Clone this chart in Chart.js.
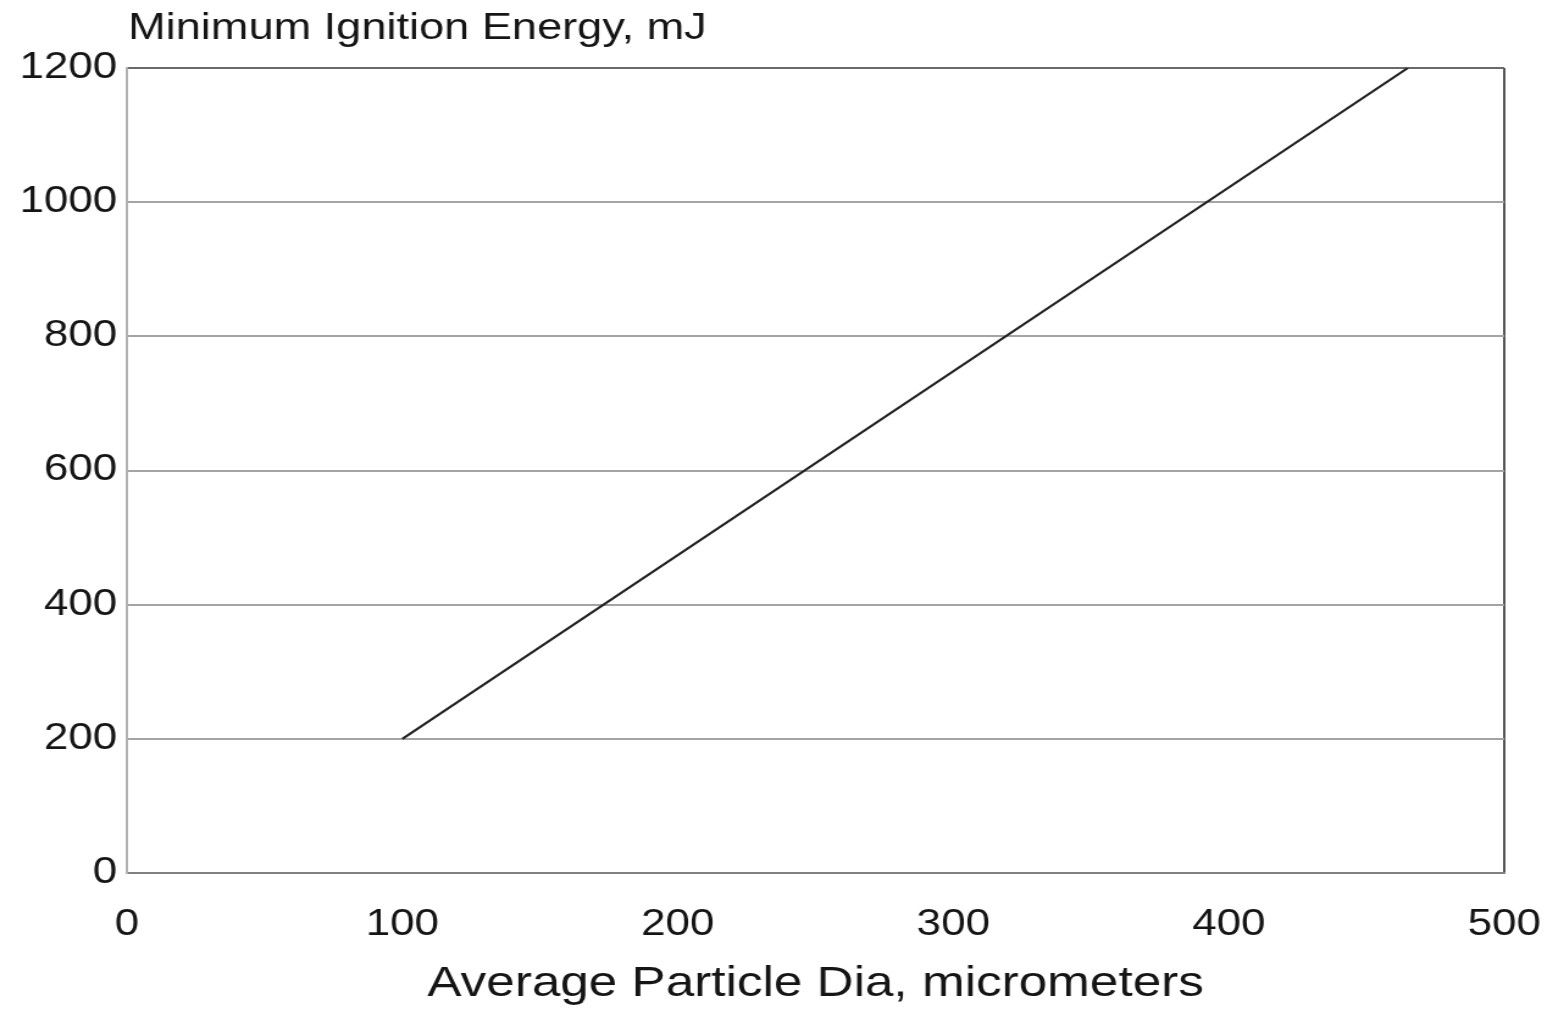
<!DOCTYPE html>
<html>
<head>
<meta charset="utf-8">
<title>Minimum Ignition Energy</title>
<script src="https://cdn.jsdelivr.net/npm/chart.js@4.4.1/dist/chart.umd.min.js"></script>
<style>
  html, body { margin: 0; padding: 0; background: #fff; overflow: hidden; }
  #wrap { width: 1557px; height: 1010px; }
  /* scanned plots have wide, stretched lettering: widen the whole canvas */
  #mie-chart { transform: scaleX(1.22); transform-origin: 0 0; }
</style>
</head>
<body>
<div id="wrap">
  <canvas id="mie-chart" width="1276" height="1010"></canvas>
</div>
<script>
// particle diameter (micrometers) vs minimum ignition energy (mJ)
const particleDia = [100, 465];
const ignitionEnergy = [200, 1200];

const xAxisMin = 0, xAxisMax = 500, xStep = 100;
const yAxisMin = 0, yAxisMax = 1200, yStep = 200;

const yAxisLabel = "Minimum Ignition Energy, mJ";
const xAxisLabel = "Average Particle Dia, micrometers";

const inkColor = "#151515";
const fontFamily = "'Liberation Sans', Arial, sans-serif";

// y axis caption sits above the plot, flush with its left edge
const topCaption = {
  id: "topCaption",
  afterDraw(chart) {
    const { ctx, chartArea } = chart;
    ctx.save();
    ctx.font = "37px " + fontFamily;
    ctx.fillStyle = inkColor;
    ctx.textAlign = "left";
    ctx.textBaseline = "alphabetic";
    ctx.fillText(yAxisLabel, chartArea.left + 1, 39);
    ctx.restore();
  },
};

const points = particleDia.map((d, i) => ({ x: d, y: ignitionEnergy[i] }));

new Chart(document.getElementById("mie-chart"), {
  type: "scatter",
  data: {
    datasets: [
      {
        data: points,
        showLine: true,
        borderColor: "#222",
        borderWidth: 2.2,
        pointRadius: 0,
        fill: false,
      },
    ],
  },
  options: {
    responsive: false,
    animation: false,
    layout: { padding: { top: 68, right: 43, bottom: 0, left: 0 } },
    plugins: {
      legend: { display: false },
      tooltip: { enabled: false },
    },
    scales: {
      x: {
        type: "linear",
        min: xAxisMin,
        max: xAxisMax,
        afterFit(scale) {
          scale.height = 137;
          // the large label gap below the axis should not push the plot inward
          scale.paddingLeft = 0;
          scale.paddingRight = 0;
        },
        ticks: {
          stepSize: xStep,
          padding: 30,
          color: inkColor,
          font: { family: fontFamily, size: 36 },
          maxRotation: 0,
          callback: (v) => String(v),
        },
        grid: {
          drawTicks: false,
          lineWidth: 2,
          color: (ctx) => (ctx.tick && ctx.tick.value === xAxisMax ? "#555" : "rgba(0,0,0,0)"),
        },
        border: { color: "#808080", width: 2 },
        title: {
          display: true,
          text: xAxisLabel,
          color: inkColor,
          font: { family: fontFamily, size: 42 },
          padding: { top: 0, bottom: 0 },
        },
      },
      y: {
        min: yAxisMin,
        max: yAxisMax,
        afterFit(scale) { scale.width = 104; },
        ticks: {
          stepSize: yStep,
          padding: 8,
          color: inkColor,
          font: { family: fontFamily, size: 36 },
          callback: (v) => String(v),
        },
        grid: {
          drawTicks: false,
          lineWidth: 2,
          color: (ctx) => {
            const v = ctx.tick && ctx.tick.value;
            if (v === yAxisMax) return "#6a6a6a";
            if (v === yAxisMin) return "rgba(0,0,0,0)";
            return "#a4a4a4";
          },
        },
        border: { color: "#b0b0b0", width: 2 },
      },
    },
  },
  plugins: [topCaption],
});
</script>
</body>
</html>
